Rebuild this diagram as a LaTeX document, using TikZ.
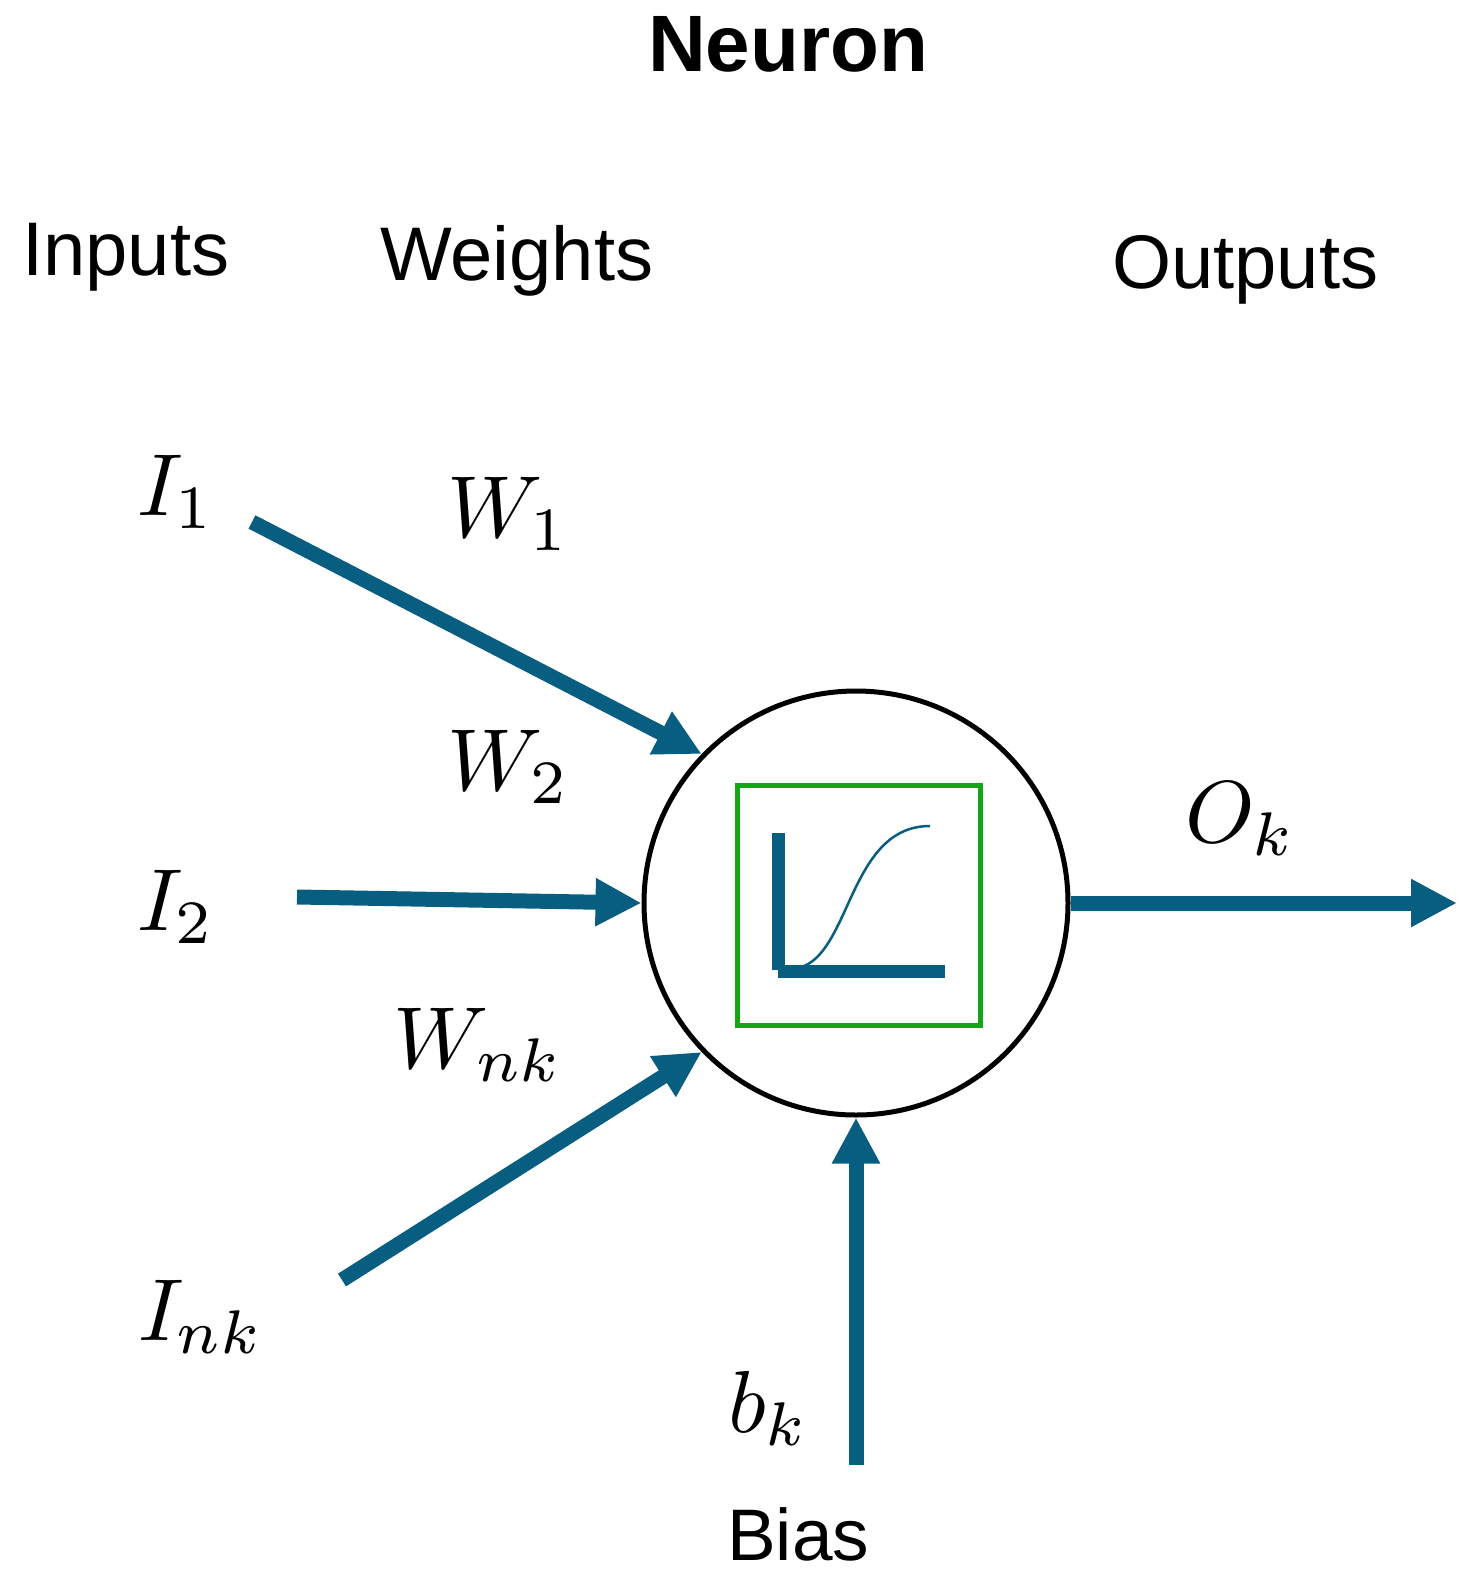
\documentclass[tikz,border=0pt]{standalone}
\usepackage[no-math]{fontspec}
\setmainfont{Liberation Sans}
\usetikzlibrary{arrows.meta}
\definecolor{tealA}{RGB}{8,94,128}
\definecolor{boxgreen}{RGB}{20,165,20}
\newcommand{\mlabelbig}[1]{\scalebox{8.8}{$#1$}}
\begin{document}
\begin{tikzpicture}[x=1pt,y=-1pt,
  conn/.style={draw=tealA, line width=15pt, -{Triangle[length=46pt,width=45pt]}},
  sans/.style={inner sep=0pt, anchor=base west, font=\fontsize{76}{80}\selectfont},
  mathlbl/.style={inner sep=0pt, anchor=base west}]
\useasboundingbox[fill=white] (0,0) rectangle (1480,1581);

% neuron and activation box
\node[circle, draw=black, line width=5pt, minimum size=424pt, inner sep=0pt] (neuron) at (856,903) {};
\node[draw=boxgreen, line width=5pt, minimum width=243pt, minimum height=240pt, inner sep=0pt] (act) at (858.5,905) {};
\fill[tealA] (772,833) rectangle (785,970);
\fill[tealA] (778,965) rectangle (945,978);
\draw[tealA, line width=2.5pt] (787,969) .. controls (852,973) and (843,826) .. (930,826);

% free ends
\coordinate (s1) at (252,522);
\coordinate (s2) at (297,897);
\coordinate (s3) at (342,1280);
\coordinate (sb) at (856,1465);
\coordinate (so) at (1457,903);

% connectors
\draw[conn] (s1) -- (neuron.136);
\draw[conn] (s2) -- (neuron.west);
\draw[conn] (s3) -- (neuron.224);
\draw[conn] (sb) -- (neuron.south);
\draw[conn] (neuron.east) -- (so);

% titles
\node[inner sep=0pt, anchor=base west, font=\bfseries\fontsize{80}{84}\selectfont] (title) at (648,72) {Neuron};
\node[sans] (tin) at (22,275) {Inputs};
\node[sans] (twt) at (380,280) {Weights};
\node[sans] (tout) at (1112,288) {Outputs};
\node[inner sep=0pt, anchor=base west, font=\fontsize{73}{76}\selectfont] (tbias) at (727,1560) {Bias};

% math labels
\node[mathlbl] (li1) at (137,515) {\mlabelbig{I_1}};
\node[mathlbl] (lw1) at (447,537) {\mlabelbig{W_1}};
\node[mathlbl] (lw2) at (447,790) {\mlabelbig{W_2}};
\node[mathlbl] (li2) at (137,930) {\mlabelbig{I_2}};
\node[mathlbl] (lwn) at (393,1068) {\mlabelbig{W_{nk}}};
\node[mathlbl] (lin) at (138,1340) {\mlabelbig{I_{nk}}};
\node[mathlbl] (lok) at (1185,842) {\mlabelbig{O_k}};
\node[mathlbl] (lbk) at (728,1432) {\mlabelbig{b_k}};
\end{tikzpicture}
\end{document}
